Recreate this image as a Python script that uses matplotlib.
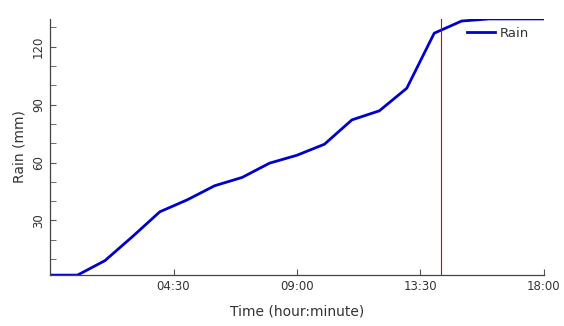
import numpy as np
import matplotlib
matplotlib.use('Agg')
import matplotlib.pyplot as plt
from matplotlib.ticker import MultipleLocator, FuncFormatter

hours = [0, 1, 2, 3, 4, 5, 6, 7, 8, 9, 10, 11, 12, 13, 14, 15, 16, 17, 18]
rain = [1.7, 1.7, 9.2, 21.6, 34.5, 40.7, 48.0, 52.3, 59.7, 63.8, 69.5,
        82.1, 86.8, 98.5, 127.0, 133.3, 134.4, 134.4, 134.4]
marker_time = 14.25
xticks = [4.5, 9, 13.5, 18]


def hhmm(x, pos=None):
    h = int(x)
    m = int(round((x - h) * 60))
    return f'{h:02d}:{m:02d}'


plt.rcParams['font.family'] = ['DejaVu Sans']
fig = plt.figure(figsize=(5.64, 3.26), dpi=100)
ax = fig.add_axes([0.0887, 0.156, 0.8758, 0.786])

ax.plot(hours, rain, color='#0000cc', lw=2, label='Rain')
ax.axvline(marker_time, color='#dd0000', lw=0.8)

ax.set_xlim(0, 18)
ax.set_ylim(min(rain), max(rain))
ax.set_xticks(xticks)
ax.xaxis.set_major_formatter(FuncFormatter(hhmm))
ax.yaxis.set_major_locator(MultipleLocator(30))
ax.yaxis.set_minor_locator(MultipleLocator(10))

for s in ('top', 'right'):
    ax.spines[s].set_visible(False)
for s in ('left', 'bottom'):
    ax.spines[s].set_color('#444444')
    ax.spines[s].set_linewidth(0.9)

ax.tick_params(axis='both', which='both', direction='in', length=4,
               colors='#555555', labelcolor='#333333', labelsize=8.5)
ax.tick_params(axis='y', which='major', labelrotation=90)
for lab in ax.get_yticklabels():
    lab.set_va('center')

ax.set_xlabel('Time (hour:minute)', fontsize=10, color='#333333', labelpad=8)
ax.set_ylabel('Rain (mm)', fontsize=10, color='#333333')

ax.legend(loc='upper right', bbox_to_anchor=(0.994, 1.015), frameon=False,
          fontsize=9.5, handlelength=2.1, handletextpad=0.4,
          labelcolor='#333333')

fig.savefig('out.png')
